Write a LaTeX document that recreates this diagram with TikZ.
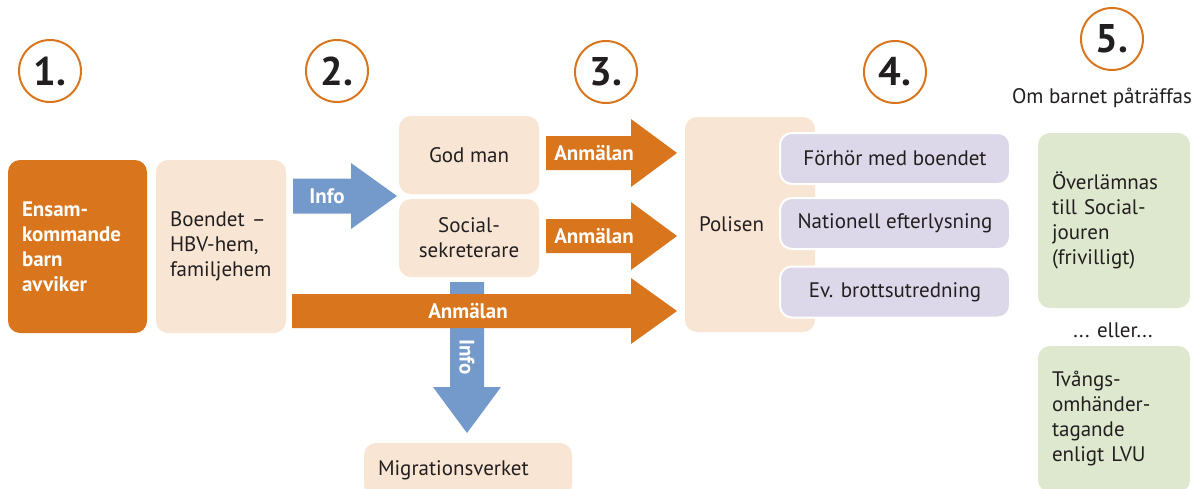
\documentclass[tikz,border=0pt]{standalone}
\usepackage{fontspec}
\setmainfont{PT Sans}
\definecolor{myorange}{HTML}{D9751C}
\definecolor{peach}{HTML}{F9E5D3}
\definecolor{myblue}{HTML}{7499CB}
\definecolor{lav}{HTML}{DDD8E9}
\definecolor{mygreen}{HTML}{DEE8CE}
\definecolor{ink}{HTML}{231F20}
\newcommand\harrow[7]{% x1,x2,yc,shafthalf,headhalf,headlen,color
  \fill[#7] (#1,{#3-#4}) -- ({#2-#6},{#3-#4}) -- ({#2-#6},{#3-#5}) -- (#2,#3)
    -- ({#2-#6},{#3+#5}) -- ({#2-#6},{#3+#4}) -- (#1,{#3+#4}) -- cycle;}
\newcommand\varrow[7]{% y1,y2,xc,shafthalf,headhalf,headlen,color
  \fill[#7] ({#3-#4},#1) -- ({#3-#4},{#2-#6}) -- ({#3-#5},{#2-#6}) -- (#3,#2)
    -- ({#3+#5},{#2-#6}) -- ({#3+#4},{#2-#6}) -- ({#3+#4},#1) -- cycle;}
\tikzset{
  txt/.style={font=\fontsize{21}{25}\selectfont, text=ink},
  box/.style={txt, rounded corners=12pt, inner ysep=0pt, inner xsep=14pt},
  lbox/.style={box, align=left, text width=#1},
  cbox/.style={box, align=center},
  peachbox/.style={fill=peach},
  lavbox/.style={fill=lav, draw=white, line width=2pt},
  greenbox/.style={fill=mygreen},
  lbl/.style={font=\fontsize{21}{25}\selectfont\bfseries, text=white, inner sep=0pt},
  numcirc/.style={circle, draw=myorange, line width=2pt, fill=white, minimum size=62pt,
    inner sep=0pt, font=\fontsize{40}{40}\selectfont\bfseries, text=ink},
}
\begin{document}
\begin{tikzpicture}[x=1pt,y=-1pt]
\clip (0,0) rectangle (1197,488);
\fill[white] (0,0) rectangle (1197,488);
% number circles
\node[numcirc] (n1) at (50,71) {1.};
\node[numcirc] (n2) at (337,71) {2.};
\node[numcirc] (n3) at (606,72) {3.};
\node[numcirc] (n4) at (895,72) {4.};
\node[numcirc] (n5) at (1112,39) {5.};
\node[txt, inner sep=0pt] (om) at (1102,98) {Om barnet påträffas};
% boxes
\node[lbox=111pt, fill=myorange, minimum width=139pt, minimum height=173pt, text=white, font=\fontsize{21}{25}\selectfont\bfseries]
  (ensam) at (77.5,246.5) {Ensam-\\kommande\\barn\\avviker};
\node[lbox=102pt, peachbox, minimum width=130pt, minimum height=173pt]
  (boendet) at (221,246.5) {Boendet –\\HBV-hem,\\familjehem};
\node[cbox, peachbox, minimum width=140pt, minimum height=78pt] (godman) at (469,155) {God man};
\node[cbox, peachbox, minimum width=140pt, minimum height=78pt] (social) at (469,238) {Social-\\sekreterare};
\node[lbox=180pt, peachbox, minimum width=208pt, minimum height=54pt] (migr) at (468,470) {Migrationsverket};
\node[lbox=102pt, peachbox, minimum width=130pt, minimum height=215pt] (polisen) at (750,224.5) {Polisen};
\node[cbox, lavbox, minimum width=230pt, minimum height=51pt] (forhor) at (895,158.5) {Förhör med boendet};
\node[cbox, lavbox, minimum width=230pt, minimum height=51pt] (nat) at (895,223.5) {Nationell efterlysning};
\node[cbox, lavbox, minimum width=230pt, minimum height=51pt] (brott) at (895,292) {Ev. brottsutredning};
\node[lbox=124pt, greenbox, minimum width=152pt, minimum height=175pt] (over) at (1114,220.5) {Överlämnas\\till Social-\\jouren\\(frivilligt)};
\node[txt, inner sep=0pt] (eller) at (1113,330) {... eller...};
\node[lbox=124pt, greenbox, minimum width=152pt, minimum height=146pt] (tvang) at (1114,419) {Tvångs-\\omhänder-\\tagande\\enligt LVU};
% arrows
\harrow{293}{397}{196}{17.5}{33}{46}{myblue}
\node[lbl] (info1) at (327,196) {Info};
\harrow{546}{677}{153}{17}{34}{46}{myorange}
\node[lbl] (anm1) at (594,153) {Anmälan};
\harrow{546}{677}{236}{17}{34}{46}{myorange}
\node[lbl] (anm2) at (594,236) {Anmälan};
\varrow{282}{433}{467}{17}{34}{46}{myblue}
\harrow{292}{677}{311}{17}{33}{46}{myorange}
\node[lbl] (anm3) at (468,311) {Anmälan};
\node[lbl, rotate=-90] (info2) at (467,357) {Info};
\end{tikzpicture}
\end{document}
